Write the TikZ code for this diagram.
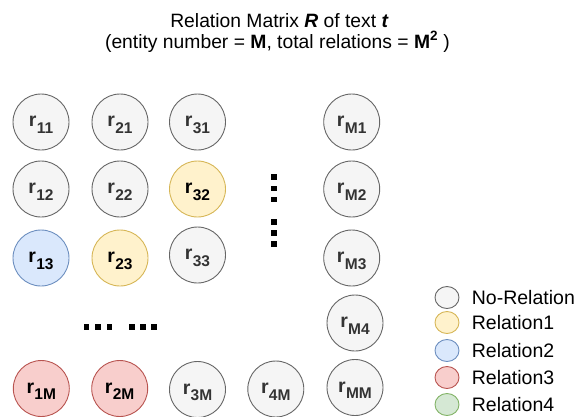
\documentclass[tikz,border=0pt]{standalone}
\usepackage{fontspec}
\setmainfont{Liberation Sans}
\definecolor{gfill}{HTML}{F5F5F5}\definecolor{gline}{HTML}{666666}\definecolor{gtext}{HTML}{333333}
\definecolor{yfill}{HTML}{FFF2CC}\definecolor{yline}{HTML}{D6B656}
\definecolor{bfill}{HTML}{DAE8FC}\definecolor{bline}{HTML}{6C8EBF}
\definecolor{rfill}{HTML}{F8CECC}\definecolor{rline}{HTML}{B85450}
\definecolor{grfill}{HTML}{D5E8D4}\definecolor{grline}{HTML}{82B366}
\newcommand{\rlab}[1]{\smash{r\kern0.3pt\raisebox{-6.8pt}{\fontsize{15.5}{15.5}\selectfont #1}}\rule{0pt}{9pt}}
\tikzset{
  rel/.style={circle, minimum size=56pt, inner sep=0pt, line width=0.9pt,
    font=\fontsize{19.5}{19.5}\selectfont\bfseries},
  nor/.style={rel, draw=gline, fill=gfill, text=gtext},
  ry/.style={rel, draw=yline, fill=yfill, text=black},
  rb/.style={rel, draw=bline, fill=bfill, text=black},
  rr/.style={rel, draw=rline, fill=rfill, text=black},
  leg/.style={ellipse, minimum width=24pt, minimum height=22pt, inner sep=0pt, line width=0.9pt},
  legtxt/.style={anchor=west, inner sep=0pt, font=\fontsize{19.5}{19.5}\selectfont},
  ttl/.style={anchor=base, inner sep=0pt, font=\fontsize{19.3}{19.3}\selectfont},
  dotsq/.style={fill=black}
}
\usetikzlibrary{shapes.geometric}
\begin{document}
\begin{tikzpicture}[x=1pt,y=-1pt]
\useasboundingbox (0,0) rectangle (583,416);
% title
\node[ttl] (t1) at (279.5,27.3) {Relation Matrix \textbf{\textit{R}} of text \textbf{\textit{t}}};
\node[ttl] (t2) at (277.5,48.3) {(entity number = \textbf{M}, total relations = \textbf{M\textsuperscript{2}} )};
% matrix
\node[nor] (r11) at (41,122) {\rlab{11}};
\node[nor] (r21) at (120,122) {\rlab{21}};
\node[nor] (r31) at (197.5,122) {\rlab{31}};
\node[nor] (rM1) at (351.7,122) {\rlab{M1}};
\node[nor] (r12) at (41,189) {\rlab{12}};
\node[nor] (r22) at (120,189) {\rlab{22}};
\node[ry]  (r32) at (197.5,189) {\rlab{32}};
\node[nor] (rM2) at (351.7,189) {\rlab{M2}};
\node[rb]  (r13) at (41,258) {\rlab{13}};
\node[ry]  (r23) at (120,258) {\rlab{23}};
\node[nor] (r33) at (197.5,255) {\rlab{33}};
\node[nor] (rM3) at (351.7,258) {\rlab{M3}};
\node[nor] (rM4) at (355,323) {\rlab{M4}};
\node[rr]  (r1M) at (41.3,388.5) {\rlab{1M}};
\node[rr]  (r2M) at (119.7,388.5) {\rlab{2M}};
\node[nor] (r3M) at (197.5,389.5) {\rlab{3M}};
\node[nor] (r4M) at (275.8,389) {\rlab{4M}};
\node[nor] (rMM) at (355,387.5) {\rlab{MM}};
% dots
\foreach \yy in {177.2,188.3,199.5,222.2,232.8,243.8}
  \fill[dotsq] (273.8-2.8,\yy-2.8) rectangle +(5.6,5.6);
\foreach \xx in {86.5,98.2,109.5,132,143,154}
  \fill[dotsq] (\xx-2.8,326.7-2.8) rectangle +(5.6,5.6);
% legend
\node[leg, draw=gline, fill=gfill] (l0) at (447,297.5) {};
\node[leg, draw=yline, fill=yfill] (l1) at (447,322.5) {};
\node[leg, draw=bline, fill=bfill] (l2) at (447,350.5) {};
\node[leg, draw=rline, fill=rfill] (l3) at (447,377.5) {};
\node[leg, draw=grline, fill=grfill] (l4) at (447,404.5) {};
\node[legtxt] (lt0) at (471.7,297.5) {No-Relation};
\node[legtxt] (lt1) at (471.7,322.5) {Relation1};
\node[legtxt] (lt2) at (471.7,350.5) {Relation2};
\node[legtxt] (lt3) at (471.7,377.5) {Relation3};
\node[legtxt] (lt4) at (471.7,404.5) {Relation4};
\end{tikzpicture}
\end{document}
